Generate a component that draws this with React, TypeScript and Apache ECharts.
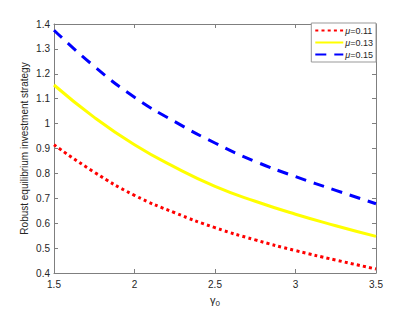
import React, { useEffect, useRef } from "react";
import * as echarts from "echarts";

const gammaValues = [1.5, 1.75, 2, 2.25, 2.5, 2.75, 3, 3.25, 3.5];
const seriesNames = ["μ=0.11", "μ=0.13", "μ=0.15"];
const mu011 = [0.915, 0.805, 0.712, 0.642, 0.582, 0.533, 0.49, 0.452, 0.416];
const mu013 = [1.155, 1.025, 0.915, 0.825, 0.748, 0.688, 0.636, 0.59, 0.547];
const mu015 = [1.375, 1.23, 1.106, 1.008, 0.922, 0.848, 0.787, 0.732, 0.678];
const xTicks = [1.5, 2, 2.5, 3, 3.5];

const AXIS = "#7f7f7f";
const TXT = "#262626";
const FONT = "Liberation Sans, Arial, sans-serif";

export default function App() {
  const ref = useRef<HTMLDivElement>(null);
  useEffect(() => {
    document.body.style.margin = "0";
    const chart = echarts.init(ref.current!, null, { renderer: "svg" });
    const pair = (ys: number[]) => gammaValues.map((x, i) => [x, ys[i]]);
    const styles = [
      { color: "#ff0000", type: [3, 3.2], width: 3 },
      { color: "#ffff00", type: "solid", width: 3 },
      { color: "#0000ff", type: [11, 8], width: 3 },
    ];
    const datas = [mu011, mu013, mu015];
    const axisCommon = {
      type: "value",
      axisLine: { show: true, lineStyle: { color: AXIS, width: 1 } },
      axisTick: { show: true, inside: true, length: 4, lineStyle: { color: AXIS } },
      splitLine: { show: false },
    };
    chart.setOption({
      animation: false,
      backgroundColor: "#ffffff",
      textStyle: { fontFamily: FONT },
      grid: { left: 54, right: 39, top: 24, bottom: 37 },
      legend: {
        orient: "vertical",
        right: 39,
        top: 23,
        backgroundColor: "#ffffff",
        borderColor: "#999999",
        borderWidth: 1,
        borderRadius: 0,
        padding: [3, 3, 3, 3],
        itemGap: 3,
        itemWidth: 28,
        itemHeight: 9,
        data: seriesNames,
        itemStyle: { opacity: 0 },
        formatter: (name: string) => `{i|μ}=${name.split("=")[1]}`,
        textStyle: {
          fontSize: 9,
          color: TXT,
          fontFamily: FONT,
          padding: [0, 0, 0, -3],
          rich: { i: { fontStyle: "italic", fontSize: 9, color: TXT, fontFamily: FONT } },
        },
      },
      xAxis: [
        {
          ...axisCommon,
          min: 1.5,
          max: 3.5,
          interval: 0.5,
          name: "{g|γ}{s|0}",
          nameLocation: "middle",
          nameGap: 20,
          nameMoveOverlap: false,
          nameTextStyle: {
            rich: {
              g: { fontSize: 11, color: TXT, fontFamily: FONT },
              s: { fontSize: 8, color: TXT, fontFamily: FONT, verticalAlign: "bottom", padding: [6, 0, 0, 0] },
            },
          },
          axisLabel: {
            fontSize: 10,
            color: TXT,
            margin: 6,
            formatter: (v: number) => String(v),
            customValues: xTicks,
          },
        },
        {
          ...axisCommon,
          position: "top",
          min: 1.5,
          max: 3.5,
          interval: 0.5,
          axisLabel: { show: false },
        },
      ],
      yAxis: [
        {
          ...axisCommon,
          min: 0.4,
          max: 1.4,
          interval: 0.1,
          name: "Robust equilibrium investment strategy",
          nameLocation: "middle",
          nameGap: 25,
          nameMoveOverlap: false,
          nameTextStyle: { fontSize: 10, color: TXT, fontFamily: FONT },
          axisLabel: {
            fontSize: 10,
            color: TXT,
            margin: 4,
            formatter: (v: number) => String(Math.round(v * 10) / 10),
          },
        },
        {
          ...axisCommon,
          position: "right",
          min: 0.4,
          max: 1.4,
          interval: 0.1,
          axisLabel: { show: false },
        },
      ],
      series: datas.map((d, i) => ({
        name: seriesNames[i],
        type: "line",
        smooth: true,
        showSymbol: false,
        symbol: "none",
        data: pair(d),
        lineStyle: { ...styles[i], cap: "butt" },
        itemStyle: { color: styles[i].color },
        z: 3 - i,
      })),
    });
    return () => chart.dispose();
  }, []);
  return <div ref={ref} style={{ width: 415, height: 312 }} />;
}
